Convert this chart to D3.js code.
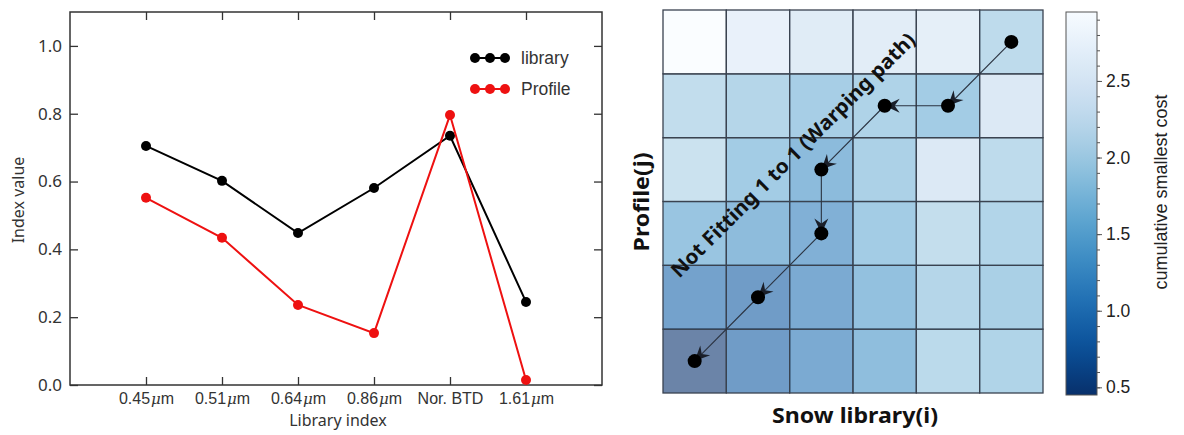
<!DOCTYPE html>
<html>
<head>
<meta charset="utf-8">
<script src="https://cdn.jsdelivr.net/npm/d3@7"></script>
<style>
  body { margin: 0; background: #fff; }
  svg { display: block; }
</style>
</head>
<body>
<svg width="1184" height="435"></svg>
<script>
// data for the left line chart
const bands = ['0.45', '0.51', '0.64', '0.86', 'Nor. BTD', '1.61'];
const libraryVals = [0.705, 0.602, 0.448, 0.581, 0.735, 0.245];
const profileVals = [0.552, 0.434, 0.236, 0.153, 0.796, 0.015];
const yTicks = [0, 0.2, 0.4, 0.6, 0.8, 1.0];

// data for the right heatmap: cost[j][i], j = 0 is the bottom row
const cost = [
  [0.47, 0.85, 1.08, 1.40, 1.92, 1.80],
  [0.95, 0.85, 1.08, 1.45, 1.85, 1.73],
  [1.53, 1.38, 1.18, 1.65, 2.01, 1.82],
  [2.10, 1.65, 1.35, 1.75, 2.33, 1.95],
  [2.00, 1.85, 1.70, 1.78, 1.65, 2.33],
  [2.95, 2.58, 2.40, 2.45, 2.50, 1.95]
];
const pathI = [5, 4, 3, 2, 2, 1, 0];
const pathJ = [5, 4, 4, 3, 2, 1, 0];
const cbTicks = [0.5, 1.0, 1.5, 2.0, 2.5];

const svg = d3.select("svg");
const ink = "#333";

// ---------- left chart ----------
const x = d3.scaleLinear().domain([0, 7]).range([70, 602]);
const y = d3.scaleLinear().domain([0, 1.1]).range([385, 12]);
const left = svg.append("g").style("font-family", "'Noto Sans', 'DejaVu Sans', sans-serif");

const fmtTick = (g) => g.selectAll("path.domain").remove();

left.append("g").attr("transform", "translate(70,0)")
  .call(d3.axisLeft(y).tickValues(yTicks).tickSize(-8).tickPadding(8).tickFormat(d3.format(".1f")))
  .call(fmtTick)
  .call(g => g.selectAll("text").style("font-size", "17px").attr("fill", ink).style("font-family", "'Noto Sans', sans-serif"))
  .call(g => g.selectAll("line").attr("stroke", ink).attr("stroke-width", 1.3));

left.append("g").attr("transform", "translate(602,0)")
  .call(d3.axisRight(y).tickValues(yTicks).tickSize(-8).tickFormat(""))
  .call(fmtTick)
  .call(g => g.selectAll("line").attr("stroke", ink).attr("stroke-width", 1.3));

const xb = left.append("g").attr("transform", "translate(0,385)")
  .call(d3.axisBottom(x).tickValues(d3.range(1, 7)).tickSize(-8).tickPadding(10).tickFormat(""))
  .call(fmtTick)
  .call(g => g.selectAll("line").attr("stroke", ink).attr("stroke-width", 1.3));

// tick labels with italic mu
xb.selectAll(".tick").each(function(d) {
  const t = d3.select(this).append("text")
    .attr("y", 19).attr("text-anchor", "middle")
    .attr("fill", ink).style("font-size", "16px");
  const b = bands[d - 1];
  t.append("tspan").text(b);
  if (b !== 'Nor. BTD') t.append("tspan").style("font-style", "italic").style("font-family", "'DejaVu Serif', serif").style("font-size", "15px").text("\u03bc").attr("dx", 1);
  if (b !== 'Nor. BTD') t.append("tspan").text("m");
});

left.append("g").attr("transform", "translate(0,12)")
  .call(d3.axisTop(x).tickValues(d3.range(1, 7)).tickSize(-8).tickFormat(""))
  .call(fmtTick)
  .call(g => g.selectAll("line").attr("stroke", ink).attr("stroke-width", 1.3));

left.append("rect")
  .attr("x", 70).attr("y", 12).attr("width", 532).attr("height", 373)
  .attr("fill", "none").attr("stroke", ink).attr("stroke-width", 1.5);

left.append("text").attr("transform", "translate(24,200) rotate(-90)")
  .attr("text-anchor", "middle").attr("fill", ink).style("font-size", "16px").text("Index value");
left.append("text").attr("x", 338).attr("y", 426)
  .attr("text-anchor", "middle").attr("fill", ink).style("font-size", "16px").text("Library index");

const line = d3.line().x((d, i) => x(i + 1)).y(d => y(d));
[[libraryVals, "#000"], [profileVals, "#ee1111"]].forEach(([vals, col]) => {
  left.append("path").datum(vals).attr("d", line)
    .attr("fill", "none").attr("stroke", col).attr("stroke-width", 2);
  left.selectAll(null).data(vals).enter().append("circle")
    .attr("cx", (d, i) => x(i + 1)).attr("cy", d => y(d)).attr("r", 5).attr("fill", col);
});

// legend
[["library", "#000", 58], ["Profile", "#ee1111", 89]].forEach(([name, col, ly]) => {
  left.append("line").attr("x1", 475).attr("x2", 505).attr("y1", ly).attr("y2", ly)
    .attr("stroke", col).attr("stroke-width", 2);
  [475, 490, 505].forEach(cx => left.append("circle").attr("cx", cx).attr("cy", ly).attr("r", 5).attr("fill", col));
  left.append("text").attr("x", 521).attr("y", ly + 6).attr("fill", ink)
    .style("font-family", "'Liberation Sans', Arial, sans-serif").style("font-size", "17.5px").text(name);
});

// ---------- right heatmap ----------
const hx = d3.scaleBand().domain(d3.range(6)).range([663, 1043]);
const hy = d3.scaleBand().domain(d3.range(6)).range([393, 10]);
const color = d3.scaleSequential(d3.interpolateBlues).domain([2.95, 0.45]);

const cells = [];
cost.forEach((row, j) => row.forEach((v, i) => cells.push({ i, j, v })));
const heat = svg.append("g");
heat.selectAll("rect.cell").data(cells).enter().append("rect")
  .attr("class", "cell")
  .attr("x", d => hx(d.i)).attr("y", d => hy(d.j))
  .attr("width", hx.bandwidth()).attr("height", hy.bandwidth())
  .attr("fill", d => color(d.v)).attr("fill-opacity", 0.6)
  .attr("stroke", "#3a4350").attr("stroke-width", 1.3);

// warping path
const cx = i => hx(i) + hx.bandwidth() / 2;
const cy = j => hy(j) + hy.bandwidth() / 2;
svg.append("defs").append("marker")
  .attr("id", "head").attr("markerUnits", "userSpaceOnUse")
  .attr("viewBox", "-16 -8 18 16").attr("refX", 0).attr("refY", 0)
  .attr("markerWidth", 18).attr("markerHeight", 16).attr("orient", "auto")
  .append("path").attr("d", "M0,0 L-15,-7 L-10,0 L-15,7 Z").attr("fill", "#1a1f2a");

for (let k = 0; k < pathI.length - 1; k++) {
  heat.append("line")
    .attr("x1", cx(pathI[k])).attr("y1", cy(pathJ[k]))
    .attr("x2", cx(pathI[k + 1])).attr("y2", cy(pathJ[k + 1]))
    .attr("stroke", "#2a3240").attr("stroke-width", 1.1)
    .attr("marker-end", "url(#head)");
}
heat.selectAll("circle").data(pathI).enter().append("circle")
  .attr("cx", d => cx(d)).attr("cy", (d, k) => cy(pathJ[k])).attr("r", 7).attr("fill", "#000");

heat.append("text").attr("transform", "translate(793,155) rotate(-45)")
  .attr("text-anchor", "middle").attr("dy", "0.35em")
  .attr("textLength", 336).attr("lengthAdjust", "spacingAndGlyphs")
  .style("font-family", "'Noto Sans', sans-serif").style("font-weight", "bold").style("font-size", "20px")
  .attr("fill", "#111").text("Not Fitting 1 to 1 (Warping path)");

heat.append("text").attr("transform", "translate(649,202) rotate(-90)")
  .attr("text-anchor", "middle")
  .attr("textLength", 99).attr("lengthAdjust", "spacingAndGlyphs")
  .style("font-family", "'Noto Sans', sans-serif").style("font-weight", "bold").style("font-size", "22px")
  .attr("fill", "#111").text("Profile(j)");
heat.append("text").attr("x", 855).attr("y", 423).attr("text-anchor", "middle")
  .attr("textLength", 166).attr("lengthAdjust", "spacingAndGlyphs")
  .style("font-family", "'Noto Sans', sans-serif").style("font-weight", "bold").style("font-size", "22px")
  .attr("fill", "#111").text("Snow library(i)");

// ---------- colorbar ----------
const cbY = d3.scaleLinear().domain([0.45, 2.95]).range([395, 12]);
const grad = svg.select("defs").append("linearGradient")
  .attr("id", "cbgrad").attr("x1", 0).attr("y1", 1).attr("x2", 0).attr("y2", 0);
d3.range(0, 1.0001, 0.05).forEach(t => {
  grad.append("stop").attr("offset", t).attr("stop-color", d3.interpolateBlues(1 - t));
});
svg.append("rect").attr("x", 1066).attr("y", 12).attr("width", 31).attr("height", 383)
  .attr("fill", "url(#cbgrad)").attr("stroke", "#555").attr("stroke-width", 1);

const cbAxis = svg.append("g").attr("transform", "translate(1097,0)");
cbAxis.append("g")
  .call(d3.axisRight(cbY).tickValues(d3.range(0.5, 2.95, 0.1)).tickSize(3).tickFormat(""))
  .call(fmtTick).call(g => g.selectAll("line").attr("stroke", "#555"));
cbAxis.append("g")
  .call(d3.axisRight(cbY).tickValues(cbTicks).tickSize(5).tickPadding(4).tickFormat(d3.format(".1f")))
  .call(fmtTick)
  .call(g => g.selectAll("line").attr("stroke", "#555"))
  .call(g => g.selectAll("text").attr("fill", "#222").style("font-size", "17.5px")
    .style("font-family", "'Liberation Sans', Arial, sans-serif"));

svg.append("text").attr("transform", "translate(1167,192) rotate(-90)")
  .attr("text-anchor", "middle").attr("fill", "#222")
  .style("font-family", "'Liberation Sans', Arial, sans-serif").style("font-size", "18px")
  .text("cumulative smallest cost");
</script>
</body>
</html>
